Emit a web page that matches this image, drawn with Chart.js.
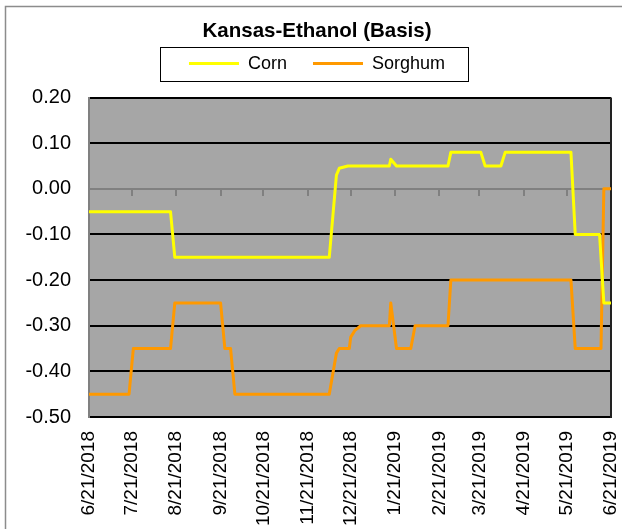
<!DOCTYPE html>
<html>
<head>
<meta charset="utf-8">
<script src="https://cdn.jsdelivr.net/npm/chart.js@4.4.1/dist/chart.umd.min.js"></script>
<style>
  body { margin: 0; background: #fff; }
  #wrap { width: 622px; height: 529px; }
</style>
</head>
<body>
<div id="wrap"><canvas id="basisChart" width="622" height="529"></canvas></div>
<script>
// monthly axis labels
const tickLabels = ['6/21/2018', '7/21/2018', '8/21/2018', '9/21/2018', '10/21/2018', '11/21/2018',
    '12/21/2018', '1/21/2019', '2/21/2019', '3/21/2019', '4/21/2019', '5/21/2019', '6/21/2019'];

const yTicks = [-0.5, -0.4, -0.3, -0.2, -0.1, 0, 0.1, 0.2];

// corn basis, points where the line changes
const cornDates = ['6/21/2018', '8/17/2018', '8/20/2018', '12/6/2018', '12/11/2018', '12/13/2018',
    '12/19/2018', '1/17/2019', '1/18/2019', '1/22/2019', '2/27/2019', '3/1/2019', '3/22/2019',
    '3/25/2019', '4/5/2019', '4/8/2019', '5/24/2019', '5/27/2019', '6/13/2019', '6/16/2019', '6/21/2019'];
const cornBasis = [-0.05, -0.05, -0.15, -0.15, 0.03, 0.045,
    0.05, 0.05, 0.065, 0.05, 0.05, 0.08, 0.08,
    0.05, 0.05, 0.08, 0.08, -0.10, -0.10, -0.25, -0.25];

// sorghum basis
const sorghumDates = ['6/21/2018', '7/19/2018', '7/22/2018', '8/17/2018', '8/20/2018', '9/21/2018',
    '9/24/2018', '9/28/2018', '10/1/2018', '12/6/2018', '12/11/2018', '12/13/2018', '12/20/2018',
    '12/21/2018', '12/24/2018', '12/28/2018', '1/17/2019', '1/18/2019', '1/22/2019', '2/1/2019',
    '2/4/2019', '2/27/2019', '3/1/2019', '5/24/2019', '5/27/2019', '6/14/2019', '6/16/2019', '6/21/2019'];
const sorghumBasis = [-0.45, -0.45, -0.35, -0.35, -0.25, -0.25,
    -0.35, -0.35, -0.45, -0.45, -0.36, -0.35, -0.35,
    -0.325, -0.31, -0.30, -0.30, -0.25, -0.35, -0.35,
    -0.30, -0.30, -0.20, -0.20, -0.35, -0.35, 0.00, 0.00];

const FONT = "'Liberation Sans', Arial, sans-serif";

// days since first label
function dayOf(s) {
    var p = s.split('/');
    var t0 = Date.UTC(2018, 5, 21);
    return (Date.UTC(+p[2], +p[0] - 1, +p[1]) - t0) / 86400000;
}

function toPoints(dates, vals) {
    return dates.map(function (d, i) { return { x: dayOf(d), y: vals[i] }; });
}

const tickDays = tickLabels.map(dayOf);
const xMin = tickDays[0];
const xMax = tickDays[tickDays.length - 1];

function monthTicks(scale) {
    scale.ticks = tickDays.map(function (v) { return { value: v }; });
}

// white page, outer frame, grey plot area
const framePlugin = {
    id: 'frame',
    beforeDraw: function (chart) {
        var ctx = chart.ctx, a = chart.chartArea;
        ctx.save();
        ctx.fillStyle = '#ffffff';
        ctx.fillRect(0, 0, chart.width, chart.height);
        ctx.strokeStyle = '#8c8c8c';
        ctx.lineWidth = 1.5;
        ctx.strokeRect(5.5, 6.5, chart.width + 20, chart.height + 20);
        ctx.fillStyle = '#a6a6a6';
        ctx.fillRect(a.left, a.top, a.right - a.left, a.bottom - a.top);
        ctx.restore();
    },
    beforeDatasetsDraw: function (chart) {
        var ctx = chart.ctx, a = chart.chartArea;
        ctx.save();
        ctx.strokeStyle = '#222';
        ctx.lineWidth = 2;
        ctx.beginPath();
        ctx.moveTo(a.right, a.top);
        ctx.lineTo(a.right, a.bottom + 1);
        ctx.stroke();
        ctx.restore();
    },
    afterDraw: function (chart) {
        // box round the legend
        var hb = chart.legend.legendHitBoxes;
        if (!hb || !hb.length) return;
        var first = hb[0], last = hb[hb.length - 1];
        var left = Math.round(first.left - 29) + 0.5;
        var right = Math.round(last.left + last.width + 23) + 0.5;
        var top = Math.round(first.top + first.height / 2 - 17) + 0.5;
        var ctx = chart.ctx;
        ctx.save();
        ctx.strokeStyle = '#000';
        ctx.lineWidth = 1;
        ctx.strokeRect(left, top, right - left, 34);
        ctx.restore();
    }
};

const ctx = document.getElementById('basisChart').getContext('2d');
const myChart = new Chart(ctx, {
    type: 'line',
    data: {
        datasets: [{
            label: 'Corn',
            data: toPoints(cornDates, cornBasis),
            borderColor: '#ffff00',
            backgroundColor: '#ffff00',
            borderWidth: 3,
            borderJoinStyle: 'round',
            pointRadius: 0,
            fill: false,
            tension: 0
        }, {
            label: 'Sorghum',
            data: toPoints(sorghumDates, sorghumBasis),
            borderColor: '#ff9900',
            backgroundColor: '#ff9900',
            borderWidth: 3,
            borderJoinStyle: 'round',
            pointRadius: 0,
            fill: false,
            tension: 0
        }]
    },
    options: {
        responsive: false,
        animation: false,
        layout: { padding: { left: 23, right: 11, top: 0, bottom: 0 } },
        plugins: {
            tooltip: { enabled: false },
            title: {
                display: true,
                text: 'Kansas-Ethanol (Basis)',
                color: '#000',
                font: { family: FONT, size: 20.5, weight: 'bold' },
                padding: { top: 19, bottom: -15 }
            },
            legend: {
                display: true,
                labels: {
                    color: '#000',
                    font: { family: FONT, size: 18 },
                    usePointStyle: true,
                    pointStyle: 'line',
                    pointStyleWidth: 50,
                    padding: 26
                }
            }
        },
        scales: {
            x: {
                type: 'linear',
                min: xMin,
                max: xMax,
                afterBuildTicks: monthTicks,
                afterFit: function (scale) {
                    scale.height = 112;
                    scale.paddingLeft = 0;
                    scale.paddingRight = 0;
                },
                grid: { display: false, drawTicks: false },
                border: { display: false },
                ticks: {
                    autoSkip: false,
                    minRotation: 90,
                    maxRotation: 90,
                    padding: 14,
                    color: '#000',
                    font: { family: FONT, size: 19 },
                    callback: function (value, index) { return tickLabels[index]; }
                }
            },
            // empty strip between legend and plot
            xGap: {
                type: 'linear',
                axis: 'x',
                position: 'top',
                min: xMin,
                max: xMax,
                afterFit: function (scale) {
                    scale.height = 15;
                    scale.paddingLeft = 0;
                    scale.paddingRight = 0;
                },
                grid: { display: false, drawTicks: false },
                border: { display: false },
                ticks: { display: false }
            },
            // category axis line sitting at zero
            x2: {
                type: 'linear',
                axis: 'x',
                position: { y: 0 },
                min: xMin,
                max: xMax,
                afterBuildTicks: monthTicks,
                grid: { drawOnChartArea: false, drawTicks: true, tickLength: 6, color: '#808080', lineWidth: 2 },
                border: { display: true, color: '#808080', width: 2 },
                ticks: { display: false }
            },
            y: {
                min: -0.5,
                max: 0.2,
                afterBuildTicks: function (scale) {
                    scale.ticks = yTicks.map(function (v) { return { value: v }; });
                },
                afterFit: function (scale) {
                    scale.width = 66;
                },
                grid: {
                    drawTicks: false,
                    lineWidth: 2,
                    color: function (c) {
                        return (c.tick && Math.abs(c.tick.value) < 1e-9) ? 'rgba(0,0,0,0)' : '#000';
                    }
                },
                border: { display: true, color: '#808080', width: 2 },
                ticks: {
                    padding: 18,
                    color: '#000',
                    font: { family: FONT, size: 20 },
                    callback: function (v) { return Number(v).toFixed(2); }
                }
            }
        }
    },
    plugins: [framePlugin]
});
</script>
</body>
</html>
